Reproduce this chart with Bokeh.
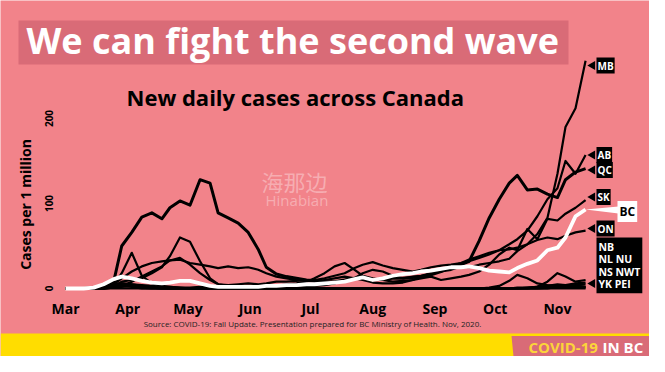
import math
import pandas as pd
from bokeh.plotting import figure
from bokeh.models import Range1d, FixedTicker, Label, BoxAnnotation, PolyAnnotation
from bokeh.embed import file_html
from bokeh.resources import INLINE

# ---------------- data (7-day average new cases per 1 million) ----------------
start_date = "2020-03-01"
# days since 1 March 2020
day_offsets = [0, 4, 9, 14, 19, 24, 28, 33, 38, 43, 48, 52, 57, 62, 67, 72, 76, 81, 86, 91,
               96, 100, 105, 110, 115, 120, 124, 129, 134, 139, 144, 148, 153, 158, 163, 168,
               173, 177, 182, 187, 192, 197, 201, 206, 211, 216, 221, 225, 230, 235, 240, 245,
               249, 254, 259]
month_labels = ["Mar", "Apr", "May", "Jun", "Jul", "Aug", "Sep", "Oct", "Nov"]
y_ticks = [0, 100, 200]

QC = [0, 0, 0, 1, 2, 8, 50, 66, 84, 89, 82, 95, 103, 98, 128, 124, 89, 83, 77, 66,
      46, 25, 17, 14, 12, 10, 9, 8, 8, 10, 12, 12, 10, 11, 12, 12, 13, 14, 16, 20,
      25, 28, 32, 56, 83, 105, 124, 133, 116, 117, 111, 107, 128, 137, 141]
AB = [0, 0, 0, 0, 1, 3, 8, 10, 12, 18, 25, 38, 60, 55, 32, 12, 5, 4, 5, 6,
      5, 6, 8, 8, 9, 10, 10, 12, 15, 18, 24, 28, 31, 27, 24, 22, 20, 22, 25, 27,
      28, 30, 32, 36, 40, 45, 52, 58, 68, 85, 105, 118, 150, 135, 157]
MB = [0, 0, 0, 0, 1, 2, 3, 3, 2, 1, 1, 0, 0, 0, 0, 0, 0, 0, 0, 0,
      0, 0, 1, 1, 1, 2, 3, 4, 6, 10, 12, 18, 22, 20, 15, 12, 14, 15, 18, 20,
      22, 26, 25, 28, 30, 32, 35, 44, 52, 64, 83, 135, 190, 212, 268]
SK = [0, 0, 0, 0, 2, 5, 6, 5, 4, 3, 2, 2, 1, 1, 2, 1, 1, 0, 1, 2,
      2, 2, 3, 5, 6, 8, 12, 18, 26, 30, 22, 15, 12, 10, 8, 9, 10, 12, 14, 10,
      12, 14, 16, 20, 28, 40, 48, 45, 70, 58, 82, 80, 88, 95, 104]
ON = [0, 0, 0, 1, 2, 5, 12, 20, 26, 30, 32, 33, 34, 30, 28, 26, 24, 26, 24, 25,
      22, 18, 14, 12, 10, 9, 8, 10, 12, 14, 12, 10, 7, 6, 6, 7, 10, 14, 18, 22,
      26, 30, 34, 38, 42, 45, 46, 48, 52, 57, 60, 58, 62, 66, 68]
BC = [0, 0, 0, 1, 5, 11, 14, 12, 9, 7, 6, 7, 9, 9, 6, 3, 2, 2, 2, 2,
      2, 3, 3, 4, 4, 5, 5, 6, 7, 8, 11, 13, 10, 12, 15, 17, 18, 20, 21, 23,
      25, 25, 26, 24, 21, 20, 19, 24, 29, 33, 45, 48, 60, 85, 93]
NB = [0, 0, 0, 0, 0, 1, 2, 3, 2, 1, 0, 0, 0, 0, 0, 0, 0, 1, 3, 2,
      1, 0, 0, 0, 0, 0, 0, 0, 0, 0, 0, 0, 0, 0, 0, 0, 0, 0, 0, 0,
      0, 0, 0, 0, 1, 3, 9, 16, 12, 6, 4, 3, 2, 4, 5]
NL = [0, 0, 0, 0, 0, 4, 18, 42, 15, 6, 3, 2, 1, 0, 0, 0, 0, 0, 0, 0,
      0, 0, 0, 0, 0, 0, 0, 0, 0, 0, 0, 0, 0, 0, 0, 0, 0, 0, 0, 0,
      0, 0, 0, 0, 0, 0, 0, 1, 1, 2, 3, 2, 4, 3, 2]
NS = [0, 0, 0, 0, 0, 1, 3, 8, 14, 20, 26, 33, 36, 28, 18, 10, 5, 3, 2, 1,
      0, 0, 0, 0, 0, 0, 0, 0, 0, 0, 0, 0, 0, 0, 0, 0, 0, 0, 0, 0,
      0, 0, 0, 0, 0, 0, 0, 0, 1, 2, 3, 5, 4, 6, 7]
NU = [0, 0, 0, 0, 0, 0, 0, 0, 0, 0, 0, 0, 0, 0, 0, 0, 0, 0, 0, 0,
      0, 0, 0, 0, 0, 0, 0, 0, 0, 0, 0, 0, 0, 0, 0, 0, 0, 0, 0, 0,
      0, 0, 0, 0, 0, 0, 0, 0, 0, 2, 8, 18, 14, 8, 10]
NWT = [0, 0, 0, 0, 0, 1, 3, 2, 0, 0, 0, 0, 0, 0, 0, 0, 0, 0, 0, 0,
       0, 0, 0, 0, 0, 0, 0, 0, 0, 0, 0, 0, 0, 0, 0, 0, 0, 0, 0, 0,
       0, 0, 0, 0, 0, 0, 0, 0, 0, 0, 0, 0, 0, 0, 0]
YK = [0, 0, 0, 0, 0, 2, 4, 3, 1, 0, 0, 0, 0, 0, 0, 0, 0, 0, 0, 0,
      0, 0, 0, 0, 0, 0, 0, 0, 0, 0, 0, 0, 0, 0, 0, 0, 0, 0, 0, 0,
      0, 0, 0, 0, 0, 0, 0, 0, 0, 0, 0, 2, 4, 3, 2]
PEI = [0, 0, 0, 0, 1, 3, 6, 5, 3, 1, 0, 0, 0, 0, 0, 0, 0, 0, 0, 0,
       0, 0, 0, 0, 0, 0, 0, 0, 0, 0, 0, 0, 0, 0, 0, 0, 0, 0, 0, 0,
       0, 0, 0, 0, 0, 0, 0, 0, 0, 0, 1, 2, 1, 2, 1]

small_series = {"NB": NB, "NL": NL, "NU": NU, "NS": NS, "NWT": NWT, "YK": YK, "PEI": PEI}
main_series = {"ON": ON, "SK": SK, "MB": MB, "AB": AB, "QC": QC}

month_days = [(pd.Timestamp(f"2020-{m:02d}-01") - pd.Timestamp(start_date)).days
              for m in range(3, 12)]

# ---------------- layout (canvas pixels) ----------------
W, H = 649, 356
X0_PX, PX_PER_DAY = 65, 2.008      # 1 March at x=65
Y0_PX, PX_PER_UNIT = 288, 0.85     # zero cases at y=288


def dx(px):
    return (px - X0_PX) / PX_PER_DAY


def dy(py):
    return (Y0_PX - py) / PX_PER_UNIT


PINK = "#f2838a"
ROSE = "#d96b77"
YELLOW = "#ffdd00"
FONT = "Open Sans"

p = figure(width=W, height=H, output_backend="svg", toolbar_location=None,
           x_range=Range1d(dx(0), dx(W)), y_range=Range1d(dy(H), dy(0)),
           min_border_left=0, min_border_right=0, min_border_top=0, min_border_bottom=0,
           background_fill_color=PINK, border_fill_color=PINK, outline_line_color=None)
p.xgrid.visible = False
p.ygrid.visible = False

xa = p.xaxis[0]
xa.fixed_location = 0
xa.ticker = FixedTicker(ticks=month_days)
xa.major_label_overrides = {d: lab for d, lab in zip(month_days, month_labels)}
xa.axis_line_color = None
xa.major_tick_line_color = None
xa.minor_tick_line_color = None
xa.major_label_text_font = FONT
xa.major_label_text_font_style = "bold"
xa.major_label_text_font_size = "14px"
xa.major_label_text_color = "black"
xa.major_label_standoff = 4

ya = p.yaxis[0]
ya.fixed_location = dx(60)
ya.ticker = FixedTicker(ticks=y_ticks)
ya.major_label_orientation = "parallel"
ya.axis_line_color = None
ya.major_tick_line_color = None
ya.minor_tick_line_color = None
ya.major_label_text_font = FONT
ya.major_label_text_font_style = "bold"
ya.major_label_text_font_size = "10px"
ya.major_label_text_color = "black"
ya.major_label_standoff = 2

# ---------------- background decorations ----------------
p.add_layout(BoxAnnotation(left=dx(18), right=dx(568), top=dy(20), bottom=dy(64),
                           fill_color=ROSE, fill_alpha=1, line_color=None, level="underlay"))
p.add_layout(Label(x=dx(26), y=dy(40), text="We can fight the second wave",
                   text_font=FONT, text_font_style="bold", text_font_size="36px",
                   text_color="white", text_baseline="middle", level="underlay"))
p.add_layout(Label(x=dx(126), y=dy(96), text="New daily cases across Canada",
                   text_font=FONT, text_font_style="bold", text_font_size="22px",
                   text_color="black", text_baseline="middle", level="underlay"))
p.add_layout(Label(x=dx(261), y=dy(180), text="海那边", text_font="Noto Sans CJK SC",
                   text_font_size="22px", text_color="white", text_alpha=0.35,
                   text_baseline="middle", level="underlay"))
p.add_layout(Label(x=dx(265), y=dy(199), text="Hinabian", text_font=FONT,
                   text_font_size="15px", text_color="white", text_alpha=0.35,
                   text_baseline="middle", level="underlay"))
p.add_layout(Label(x=dx(25), y=dy(204), text="Cases per 1 million", angle=math.pi / 2,
                   text_font=FONT, text_font_style="bold", text_font_size="14px",
                   text_color="black", text_align="center", text_baseline="middle"))

# ---------------- lines ----------------
for name, vals in small_series.items():
    p.line(day_offsets, vals, line_color="black", line_width=2.2, line_join="round")
for name, vals in main_series.items():
    p.line(day_offsets, vals, line_color="black", line_width=3 if name == "QC" else 2.2,
           line_join="round")
p.line(day_offsets, BC, line_color="white", line_width=3.8, line_join="round")

# ---------------- end tags ----------------
tag_rows = [("MB", 65), ("AB", 154.5), ("QC", 169.5), ("SK", 196.5), ("ON", 228)]
tip_x, box_x = 588, 596
for name, py in tag_rows:
    p.add_layout(Label(x=dx(box_x), y=dy(py), text=name, text_font=FONT,
                       text_font_style="bold", text_font_size="10px", text_color="white",
                       text_align="left", text_baseline="middle",
                       background_fill_color="black", padding=1))
p.add_layout(Label(x=dx(box_x), y=dy(237), text="NB\nNL NU\nNS NWT\nYK PEI", text_font=FONT,
                   text_font_style="bold", text_font_size="10.5px", text_color="white",
                   text_align="left", text_baseline="top", text_line_height=0.9,
                   background_fill_color="black", padding=2))
pointer_rows = [py for _, py in tag_rows] + [283]
p.scatter([dx((tip_x + box_x) / 2)] * len(pointer_rows), [dy(v) for v in pointer_rows],
          marker="triangle", size=9, angle=math.pi / 2, fill_color="black", line_color=None)

bc_py = 211
p.patch([day_offsets[-1], dx(618), dx(618)], [BC[-1], dy(bc_py - 5), dy(bc_py + 2)],
        fill_color="white", line_color=None)
p.add_layout(Label(x=dx(617), y=dy(bc_py), text="BC", text_font=FONT, text_font_style="bold",
                   text_font_size="12px", text_color="black", text_align="left",
                   text_baseline="middle", background_fill_color="white", padding=2))

# ---------------- footer ----------------
p.add_layout(Label(x=dx(312), y=dy(323),
                   text="Source: COVID-19: Fall Update. Presentation prepared for BC Ministry of Health. Nov, 2020.",
                   text_font=FONT, text_font_size="8px", text_color="#222222",
                   text_align="center", text_baseline="middle"))
p.add_layout(BoxAnnotation(left=dx(0), right=dx(W + 10), top=dy(333), bottom=dy(H + 10),
                           fill_color=YELLOW, fill_alpha=1, line_color=None))
p.add_layout(PolyAnnotation(xs=[dx(511), dx(W + 10), dx(W + 10), dx(514)],
                            ys=[dy(335.5), dy(335.5), dy(H + 10), dy(H + 10)],
                            fill_color=ROSE, fill_alpha=1, line_color=None))
p.add_layout(Label(x=dx(528), y=dy(346), text="COVID-19", text_font=FONT,
                   text_font_style="bold", text_font_size="15px", text_color="#fcd43a",
                   text_baseline="middle"))
p.add_layout(Label(x=dx(602), y=dy(346), text="IN BC", text_font=FONT,
                   text_font_style="bold", text_font_size="15px", text_color="white",
                   text_baseline="middle"))

open("out.html", "w").write(file_html(p, INLINE))
